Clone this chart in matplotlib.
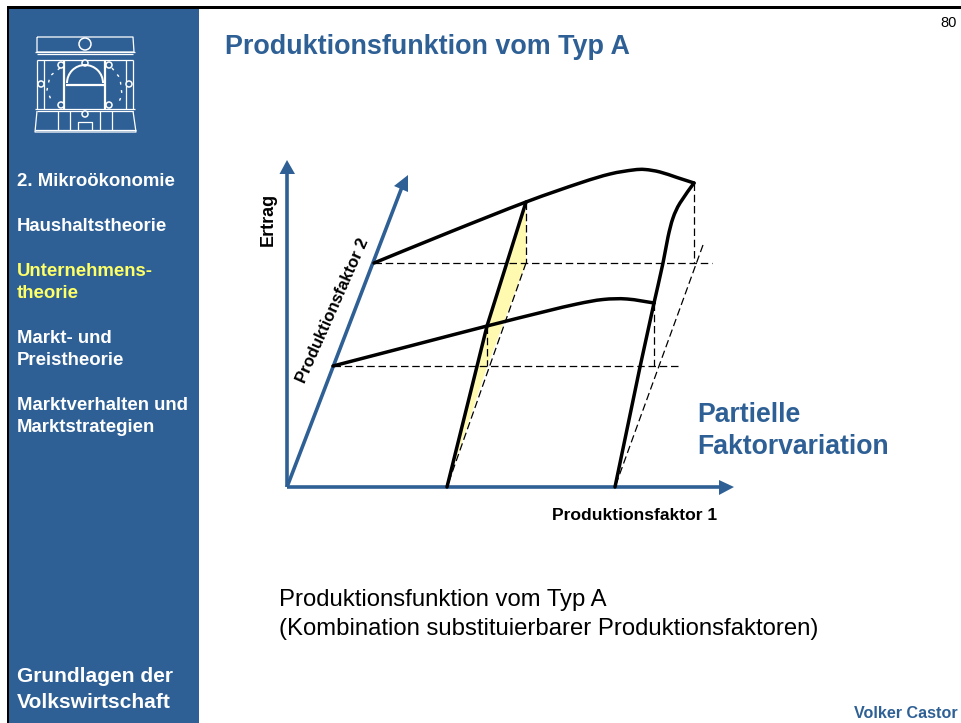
import matplotlib
matplotlib.use("Agg")
import matplotlib.pyplot as plt
from matplotlib.patches import Polygon, Rectangle, Circle, Wedge, PathPatch
from matplotlib.path import Path

BLUE = "#2E6095"
YELLOW = "#FFFAB0"

# diagram geometry (x, y in image pixels)
upper_curve = [(374,263),(450,232),(526,202),(580,183),(610,174),(633,170),(645,169.5),(660,172),(677,177.5),(694,183)]
lower_curve = [(333,366),(410,346),(487,326),(543,312),(577,304),(603,299.5),(627,299),(654,303)]
middle_line = [(526,202),(487,326),(447,487)]
right_upper = [(694,183),(680,203),(673,218),(668,237),(663,263),(654,303)]
right_lower = [(654,303),(640,367),(615,487)]
dash_h = [[(374,263),(712,263)],[(333,366),(680,366)]]
dash_v = [[(526,202),(526,263)],[(694,183),(694,263)],[(654,303),(654,366)],[(487,326),(487,366)]]
dash_o = [[(526,263),(447,487)],[(703,245),(615,487)]]
yellow_area = [(447,487),(487,326),(526,202),(526,263),(487,367)]
axes_lines = [[(287,487),(287,172)],[(287,487),(402,187)],[(287,487),(720,487)]]
axes_heads = [[(287,160),(279.5,174),(295,174)],[(408,175),(394,186),(408,192)],[(734,487),(719,480),(719,495)]]

menu = [("2. Mikroökonomie",180,"white"),("Haushaltstheorie",225,"white"),
        ("Unternehmens-",270,"#FFFF66"),("theorie",292,"#FFFF66"),
        ("Markt- und",337,"white"),("Preistheorie",359,"white"),
        ("Marktverhalten und",404,"white"),("Marktstrategien",426,"white")]

logo_lines = [[(37,37),(133,37),(134,52),(37,52),(37,37)],[(35,52),(135,52)],[(37,54),(133,54)],
 [(37,60),(133,60)],[(37,60),(37,109)],[(133,60),(133,109)],[(44,60),(44,109)],[(126,60),(126,109)],
 [(35,109),(135,109)],[(37,111),(133,111)],[(37,111),(35,132),(136,132),(133,111)],[(35,130),(136,130)],
 [(58,111),(58,130)],[(70,111),(70,130)],[(100,111),(100,130)],[(112,111),(112,130)],
 [(78,130),(78,122),(92,122),(92,130)]]
logo_thick = [[(64,60),(64,109)],[(105,60),(105,109)],[(66,85),(105,85)]]
logo_dotted = [[(60,68),(50,76),(47,90),(52,102)],[(112,68),(120,78),(122,95),(118,104)]]
logo_circles = [(85,44,6),(61,65,3),(109,65,3),(85,63,3),(41,84,3),(129,84,3),(61,105,3),(109,105,3),(85,114,3)]


def smooth(points):
    """Smooth path through the read points, drawn as Bezier segments."""
    verts = [points[0]]
    codes = [Path.MOVETO]
    n = len(points)
    for i in range(n-1):
        p0 = points[max(i-1,0)]; p1 = points[i]; p2 = points[i+1]; p3 = points[min(i+2,n-1)]
        c1 = (p1[0]+(p2[0]-p0[0])/6, p1[1]+(p2[1]-p0[1])/6)
        c2 = (p2[0]-(p3[0]-p1[0])/6, p2[1]-(p3[1]-p1[1])/6)
        verts += [c1,c2,p2]
        codes += [Path.CURVE4]*3
    return Path(verts,codes)


fig = plt.figure(figsize=(9.61,7.23), dpi=100, facecolor="white")
ax = fig.add_axes([0,0,1,1])
ax.set_xlim(0,961); ax.set_ylim(723,0); ax.axis("off")
plt.rcParams["font.family"] = "Liberation Sans"

ax.add_patch(Rectangle((9,9),190,714,fc=BLUE,ec="none",zorder=1))
ax.add_patch(Rectangle((7,6),954,3,fc="black",ec="none",zorder=2))
ax.add_patch(Rectangle((7,6),2,717,fc="black",ec="none",zorder=2))

for seg in logo_lines:
    ax.plot(*zip(*seg),color="white",lw=0.9,zorder=3,solid_capstyle="butt")
for seg in logo_thick:
    ax.plot(*zip(*seg),color="white",lw=1.6,zorder=3,solid_capstyle="butt")
for seg in logo_dotted:
    ax.plot(*zip(*seg),color="white",lw=1.0,dashes=(2,4),zorder=3)
for x,y,r in logo_circles:
    ax.add_patch(Circle((x,y),r,fc=BLUE,ec="white",lw=1.1,zorder=3))
ax.add_patch(Wedge((85,83),19,180,360,width=2,fc="white",ec="none",zorder=3))

for t,y,c in menu:
    ax.text(17,y+1.5,t,color=c,fontsize=13.4,fontweight="bold",va="center",ha="left",zorder=4)
ax.text(17,676.5,"Grundlagen der",color="white",fontsize=15.1,fontweight="bold",va="center",zorder=4)
ax.text(17,702.5,"Volkswirtschaft",color="white",fontsize=15.1,fontweight="bold",va="center",zorder=4)

ax.text(225,46.5,"Produktionsfunktion vom Typ A",color=BLUE,fontsize=19.4,fontweight="bold",va="center")
ax.text(957,23,"80",color="black",fontsize=10.5,ha="right",va="center")
ax.text(958,713,"Volker Castor",color=BLUE,fontsize=11.6,fontweight="bold",ha="right",va="center")

ax.add_patch(Polygon(yellow_area,fc=YELLOW,ec="none",zorder=2))
for seg in dash_h+dash_v+dash_o:
    ax.plot(*zip(*seg),color="black",lw=0.9,dashes=(6,3),zorder=3)
for seg in axes_lines:
    ax.plot(*zip(*seg),color=BLUE,lw=2.6,zorder=4,solid_capstyle="butt")
for h in axes_heads:
    ax.add_patch(Polygon(h,fc=BLUE,ec="none",zorder=4))
for c in (upper_curve,lower_curve,right_upper):
    ax.add_patch(PathPatch(smooth(c),fc="none",ec="black",lw=2.5,zorder=5,capstyle="round",joinstyle="round"))
for c in (middle_line,right_lower):
    ax.plot(*zip(*c),color="black",lw=2.5,zorder=5,solid_joinstyle="round",solid_capstyle="round")

ax.text(268,219,"Ertrag",color="black",fontsize=13,fontweight="bold",rotation=90,ha="center",va="center")
ax.text(333,311,"Produktionsfaktor 2",color="black",fontsize=12,fontweight="bold",rotation=66,ha="center",va="center",rotation_mode="anchor")
ax.text(635,515,"Produktionsfaktor 1",color="black",fontsize=12.6,fontweight="bold",ha="center",va="center")

ax.text(697,415,"Partielle",color=BLUE,fontsize=19.2,fontweight="bold",va="center")
ax.text(697,447,"Faktorvariation",color=BLUE,fontsize=19.2,fontweight="bold",va="center")
ax.text(279,600,"Produktionsfunktion vom Typ A",color="black",fontsize=17.2,va="center")
ax.text(279,629,"(Kombination substituierbarer Produktionsfaktoren)",color="black",fontsize=17.2,va="center")

fig.savefig("out.png",dpi=100,facecolor="white")
